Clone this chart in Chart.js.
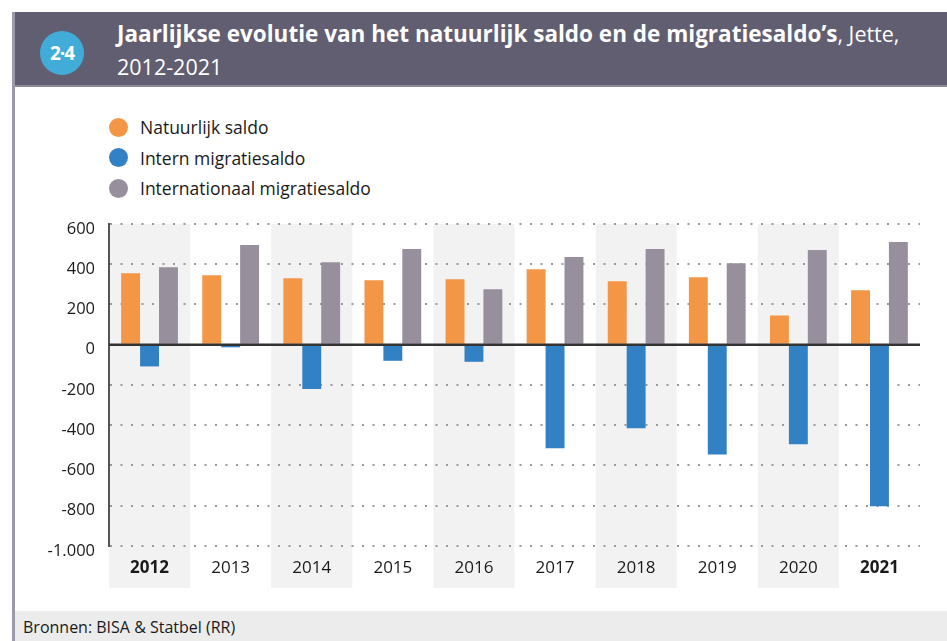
<!DOCTYPE html>
<html>
<head>
<meta charset="utf-8">
<script src="https://cdn.jsdelivr.net/npm/chart.js@4.4.1/dist/chart.umd.min.js"></script>
<style>
body{margin:0;width:947px;height:641px;overflow:hidden;background:#fff;font-family:"Open Sans",sans-serif;position:relative}
#frame{position:absolute;left:12px;top:12px;width:3px;height:629px;background:#9c99aa}
#header{position:absolute;left:12px;top:12px;right:0;height:73px;background:#625e72;border-bottom:2px solid #8e8a9c}
#badge{position:absolute;left:40px;top:31px;width:44px;height:44px;border-radius:50%;background:#42acd9;color:#fff;font:bold 19px "Open Sans",sans-serif;text-align:center;line-height:44px;letter-spacing:-1px}
#title{position:absolute;left:117px;top:17px;color:#fff;font:21.5px/33px "Open Sans",sans-serif;white-space:nowrap}
#title b{font-weight:bold;font-size:22.5px}
#legend{position:absolute;left:109px;top:112px}
.item{display:flex;align-items:center;height:30.5px;font-size:17.5px;color:#1a1a1a}
.dot{width:19px;height:19px;border-radius:50%;margin-right:12px}
#footer{position:absolute;left:15px;right:0;top:611px;height:30px;background:#ececec;font-size:16px;color:#1a1a1a;line-height:33px;padding-left:8px}
#wrap{position:absolute;left:0;top:200px;width:947px;height:388px}
</style>
</head>
<body>
<div id="header"></div>
<div id="frame"></div>
<div id="badge">2·4</div>
<div id="title"><b>Jaarlijkse evolutie van het natuurlijk saldo en de migratiesaldo’s</b>, Jette,<br>2012-2021</div>
<div id="legend"></div>
<div id="wrap"><canvas id="chart"></canvas></div>
<div id="footer">Bronnen: BISA &amp; Statbel (RR)</div>
<script>
const years = ['2012', '2013', '2014', '2015', '2016', '2017', '2018', '2019', '2020', '2021'];
const natuurlijk = [355, 345, 330, 320, 325, 375, 315, 335, 145, 270];
const intern = [-108, -13, -220, -80, -85, -515, -415, -545, -495, -803];
const internationaal = [385, 495, 410, 475, 275, 435, 475, 405, 470, 510];
const yTicks = [600, 400, 200, 0, -200, -400, -600, -800, -1000];
const boldYears = ['2012', '2021'];
const seriesNames = ['Natuurlijk saldo', 'Intern migratiesaldo', 'Internationaal migratiesaldo'];
const seriesColors = ['#f39645', '#3381c5', '#988f9c'];

const series = [natuurlijk, intern, internationaal];

// legend
const legend = document.getElementById('legend');
seriesNames.forEach(function(name, i) {
	const row = document.createElement('div');
	row.className = 'item';
	row.innerHTML = '<span class="dot" style="background:' + seriesColors[i] + '"></span>' + name;
	legend.appendChild(row);
});

function fmt(v) {
	const s = Math.abs(v).toString().replace(/\B(?=(\d{3})+(?!\d))/g, '.');
	return (v < 0 ? '-' : '') + s;
}

// alternating grey columns behind the chart
const bands = {
	id: 'bands',
	beforeDraw: function(chart) {
		const ctx = chart.ctx;
		const x = chart.scales.x;
		const step = x.getPixelForValue(1) - x.getPixelForValue(0);
		ctx.save();
		ctx.fillStyle = '#f2f2f2';
		for (let i = 0; i < years.length; i += 2) {
			const c = x.getPixelForValue(i);
			ctx.fillRect(c - step / 2, chart.chartArea.top, step, chart.height - chart.chartArea.top);
		}
		ctx.restore();
	}
};

const zeroLine = {
	id: 'zeroLine',
	afterDatasetsDraw: function(chart) {
		const ctx = chart.ctx;
		const y = chart.scales.y.getPixelForValue(0);
		ctx.save();
		ctx.strokeStyle = '#333';
		ctx.lineWidth = 2.5;
		ctx.beginPath();
		ctx.moveTo(chart.chartArea.left, y);
		ctx.lineTo(chart.chartArea.right, y);
		ctx.stroke();
		ctx.restore();
	}
};

new Chart(document.getElementById('chart'), {
	type: 'bar',
	data: {
		labels: years,
		datasets: series.map(function(d, i) {
			return {
				label: seriesNames[i],
				data: d,
				backgroundColor: seriesColors[i],
				barPercentage: 1,
				categoryPercentage: 0.7
			};
		})
	},
	options: {
		responsive: true,
		maintainAspectRatio: false,
		animation: false,
		layout: { padding: { top: 23, right: 27, left: 0, bottom: 0 } },
		plugins: { legend: { display: false }, tooltip: { enabled: false } },
		scales: {
			x: {
				grid: { display: false },
				border: { display: false },
				afterFit: function(s) { s.height = 42; },
				ticks: {
					padding: 4,
					color: '#1a1a1a',
					font: function(c) {
						return { family: 'Open Sans', size: 17, weight: boldYears.includes(years[c.index]) ? 'bold' : 'normal' };
					}
				}
			},
			y: {
				min: -1000,
				max: 600,
				afterBuildTicks: function(s) { s.ticks = yTicks.map(function(v) { return { value: v }; }); },
				afterFit: function(s) { s.width = 109; },
				grid: {
					drawTicks: false,
					lineWidth: 2,
					color: function(c) { return c.tick && c.tick.value === 0 ? 'rgba(0,0,0,0)' : '#999'; }
				},
				border: { display: true, color: '#555', width: 2, dash: [2, 8.5] },
				ticks: {
					padding: 14,
					labelOffset: 5,
					color: '#1a1a1a',
					font: { family: 'Open Sans', size: 16.5 },
					callback: function(v) { return fmt(v); }
				}
			}
		}
	},
	plugins: [bands, zeroLine]
});
</script>
</body>
</html>
